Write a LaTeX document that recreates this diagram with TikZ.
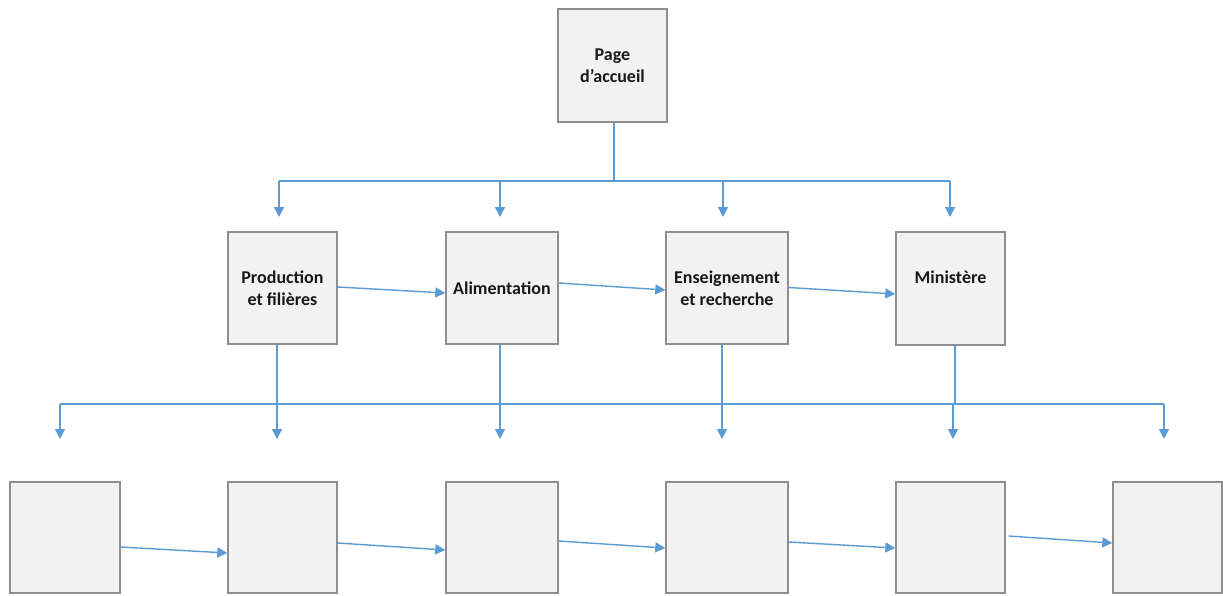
\documentclass[tikz,border=0pt]{standalone}
\usepackage{fontspec}
\setmainfont{Carlito}
\usepackage{tikz}
\usetikzlibrary{positioning,arrows.meta}

\definecolor{linkblue}{HTML}{5B9BD5}
\definecolor{boxgray}{HTML}{F2F2F2}
\definecolor{framegray}{HTML}{8E8E8E}

\begin{document}
\begin{tikzpicture}[
	x=1pt, y=-1pt,
	page/.style={rectangle, draw=framegray, line width=1.4pt, fill=boxgray,
		text centered, align=center, text=black!90,
		minimum width=109pt, minimum height=112pt, inner sep=0pt,
		font=\fontsize{18}{22}\selectfont\bfseries},
	link/.style={draw=linkblue, line width=1.4pt},
	arrow/.style={link, -{Triangle[width=10pt,length=10pt]}}
	]
	\useasboundingbox (0,0) rectangle (1223,595);
	% top
	\node (home) [page, minimum height=113pt] at (612.5,65.5) {Page\\d’accueil};
	% middle row
	\node (prod) [page] at (282.5,288) {Production\\et filières};
	\node (alim) [page, minimum width=112pt] at (502,288) {Alimentation};
	\node (ens) [page, minimum width=122pt] at (727,288) {Enseignement\\et recherche};
	\node (mini) [page, minimum height=113pt] at (950.5,288.5) {Ministère\\\mbox{}};
	% bottom row
	\node (b1) [page, minimum width=110pt, minimum height=111pt] at (65,537.5) {};
	\node (b2) [page, minimum height=111pt] at (282.5,537.5) {};
	\node (b3) [page, minimum width=112pt, minimum height=111pt] at (502,537.5) {};
	\node (b4) [page, minimum width=122pt, minimum height=111pt] at (727,537.5) {};
	\node (b5) [page, minimum height=111pt] at (950.5,537.5) {};
	\node (b6) [page, minimum height=111pt] at (1167.5,537.5) {};

	% upper bus
	\coordinate (hub) at (614,181);
	\coordinate (busL) at (279,181);
	\coordinate (busR) at (950,181);
	\draw[link] (home.south -| hub) -- (hub);
	\draw[link] (busL) -- (busR);
	\foreach \x/\n in {279/prod,500/alim,723/ens,950/mini}{
		\coordinate (up-\n) at (\x,181);
		\coordinate (tip-\n) at (\x,217);
		\draw[arrow] (up-\n) -- (tip-\n);
	}

	% lower bus
	\coordinate (lowL) at (60,404);
	\coordinate (lowR) at (1164,404);
	\draw[link] (lowL) -- (lowR);
	\foreach \x/\n in {277/prod,500/alim,722/ens,955/mini}{
		\coordinate (drop-\n) at (\x,404);
		\draw[link] (\n.south -| drop-\n) -- (drop-\n);
	}
	\foreach \x/\n in {60/b1,277/b2,500/b3,722/b4,953/b5,1164/b6}{
		\coordinate (low-\n) at (\x,404);
		\coordinate (tip-\n) at (\x,439);
		\draw[arrow] (low-\n) -- (tip-\n);
	}

	% sideways links
	\draw[arrow] ([yshift=1pt]prod.east) -- ([yshift=-5pt]alim.west);
	\draw[arrow] ([yshift=5pt]alim.east) -- ([yshift=-2pt]ens.west);
	\draw[arrow] ([yshift=0.5pt]ens.east) -- ([yshift=-5.5pt]mini.west);
	\draw[arrow] ([yshift=-9.5pt]b1.east) -- ([yshift=-15.5pt]b2.west);
	\draw[arrow] ([yshift=-5.5pt]b2.east) -- ([yshift=-12.5pt]b3.west);
	\draw[arrow] ([yshift=-3.5pt]b3.east) -- ([yshift=-10.5pt]b4.west);
	\draw[arrow] ([yshift=-4.5pt]b4.east) -- ([yshift=-10.5pt]b5.west);
	\draw[arrow] ([xshift=3pt,yshift=1.5pt]b5.east) -- ([yshift=-5.5pt]b6.west);
\end{tikzpicture}
\end{document}
